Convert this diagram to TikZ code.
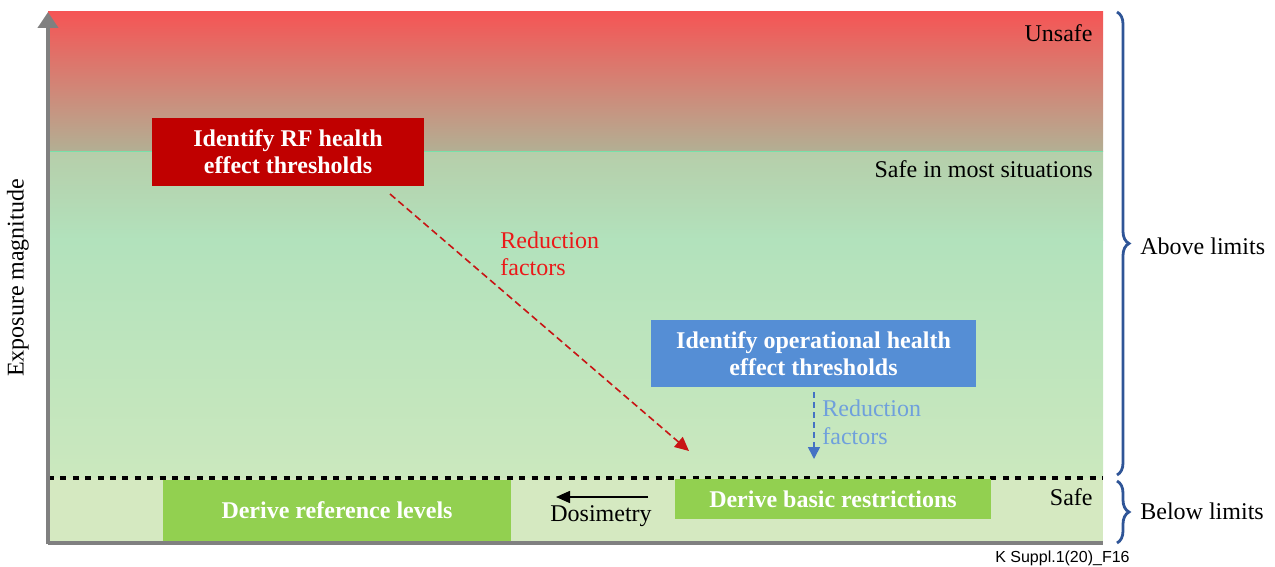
\documentclass[tikz,border=0pt]{standalone}
\usepackage{fontspec}
\setmainfont{Liberation Serif}
\newfontfamily\sansf{Liberation Sans}
\usetikzlibrary{arrows.meta,decorations.pathreplacing}
\definecolor{redtop}{RGB}{245,85,85}
\definecolor{tan}{RGB}{178,176,148}
\definecolor{greenA}{RGB}{182,206,170}
\definecolor{mint}{RGB}{178,226,188}
\definecolor{greenB}{RGB}{203,232,190}
\definecolor{safebg}{RGB}{213,233,193}
\definecolor{sepline}{RGB}{120,225,170}
\definecolor{axisgrey}{RGB}{128,128,128}
\definecolor{boxred}{RGB}{192,0,0}
\definecolor{boxblue}{RGB}{85,142,213}
\definecolor{boxgreen}{RGB}{146,208,80}
\definecolor{arrred}{RGB}{200,20,20}
\definecolor{txtred}{RGB}{235,25,25}
\definecolor{arrblue}{RGB}{68,114,196}
\definecolor{txtblue}{RGB}{111,160,220}
\definecolor{bracecol}{RGB}{47,85,151}
\tikzset{
  stepbox/.style={inner sep=0pt, text=white, font=\fontsize{12}{13.5}\selectfont\bfseries, align=center},
  lbl/.style={inner sep=0pt, font=\fontsize{12}{13.5}\selectfont},
  redtxt/.style={lbl, text=txtred, align=left, font=\fontsize{12}{13.5}\selectfont},
  bluetxt/.style={lbl, text=txtblue, align=left, font=\fontsize{12}{14}\selectfont},
  redarrow/.style={arrred, line width=0.8pt, dash pattern=on 3.5pt off 2pt, -{Triangle[width=6.5pt,length=7pt]}},
  bluearrow/.style={arrblue, line width=0.8pt, dash pattern=on 3pt off 2pt, -{Triangle[width=6pt,length=6pt]}},
  bracestyle/.style={bracecol, line width=1.4pt, decoration={brace, amplitude=6pt}, decorate},
}
\begin{document}
\begin{tikzpicture}[x=0.5pt, y=-0.5pt]
\useasboundingbox (0,0) rectangle (1275,567);
% background gradient
\shade[top color=redtop, bottom color=tan] (48,12) rectangle (1103,152);
\shade[top color=greenA, bottom color=mint] (48,152) rectangle (1103,240);
\shade[top color=mint, bottom color=greenB] (48,240) rectangle (1103,478);
\fill[safebg] (48,478) rectangle (1103,543);
\draw[sepline, line width=0.5pt] (48,152) -- (1103,152);
% dashed limit line
\draw[black, line width=2pt, dash pattern=on 3pt off 3.2pt] (48,478) -- (1103,478);
% axes
\draw[axisgrey, line width=1.8pt] (48,543) -- (1103,543);
\coordinate (ax0) at (48,544);
\coordinate (ax1) at (48,12);
\draw[axisgrey, line width=2pt, -{Triangle[width=10pt,length=8pt]}] (ax0) -- (ax1);
\node[lbl, rotate=90] (ylab) at (18,278) {Exposure magnitude};
% zone labels
\node[lbl, anchor=east] (unsafe) at (1093,33) {Unsafe};
\node[lbl, anchor=east] (most) at (1093,169) {Safe in most situations};
\node[lbl, anchor=east] (safe) at (1093,497) {Safe};
% boxes
\node[stepbox, fill=boxred, minimum width=136pt, minimum height=34pt] (rf) at (288,152) {Identify RF health\\effect thresholds};
\node[stepbox, fill=boxblue, minimum width=162.5pt, minimum height=33.5pt] (op) at (813.5,353.5) {Identify operational health\\effect thresholds};
\node[stepbox, fill=boxgreen, minimum width=174pt, minimum height=30.5pt] (ref) at (337,510.5) {Derive reference levels};
\node[stepbox, fill=boxgreen, minimum width=158pt, minimum height=20pt] (basic) at (833,499) {Derive basic restrictions};
% red reduction arrow
\coordinate (r0) at (390,194);
\coordinate (r1) at (689,451);
\draw[redarrow] (r0) -- (r1);
\node[redtxt, anchor=west] (redred) at (500,254) {Reduction\\factors};
% blue reduction arrow
\coordinate (b0) at (814,392);
\coordinate (b1) at (814,459);
\draw[bluearrow] (b0) -- (b1);
\node[bluetxt, anchor=west] (bluered) at (822,422) {Reduction\\factors};
% dosimetry
\coordinate (d0) at (648,497);
\coordinate (d1) at (556,497);
\draw[black, line width=0.8pt, -{Triangle[width=6pt,length=7pt]}] (d0) -- (d1);
\node[lbl] (dosi) at (601,516) {Dosimetry};
% braces
\coordinate (br0) at (1117,12);
\coordinate (br1) at (1117,475);
\coordinate (br2) at (1117,481);
\coordinate (br3) at (1117,543);
\draw[bracestyle] (br0) -- (br1);
\draw[bracestyle] (br2) -- (br3);
\node[lbl, anchor=west] (above) at (1140,246) {Above limits};
\node[lbl, anchor=west] (below) at (1140,511) {Below limits};
% figure id
\node[inner sep=0pt, anchor=east, font=\sansf\fontsize{8}{9}\selectfont] (fid) at (1130,558) {K Suppl.1(20)\_F16};
\end{tikzpicture}
\end{document}
